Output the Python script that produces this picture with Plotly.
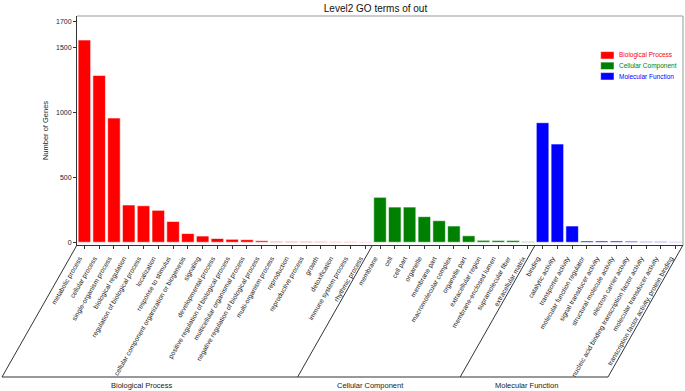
import plotly.graph_objects as go

# ---------------- data ----------------
bp_terms = ["metabolic process", "cellular process", "single-organism process",
            "biological regulation", "regulation of biological process", "localization",
            "response to stimulus", "cellular component organization or biogenesis",
            "signaling", "developmental process", "positive regulation of biological process",
            "multicellular organismal process", "negative regulation of biological process",
            "multi-organism process", "reproduction", "reproductive process", "growth",
            "detoxification", "immune system process", "rhythmic process"]
bp_values = [1556, 1284, 956, 287, 281, 246, 160, 67, 48, 29, 23, 20, 12, 6, 5, 5, 4, 3, 3, 2]

cc_terms = ["membrane", "cell", "cell part", "organelle", "membrane part",
            "macromolecular complex", "organelle part", "extracellular region",
            "membrane-enclosed lumen", "supramolecular fiber", "extracellular matrix"]
cc_values = [346, 271, 271, 197, 166, 125, 50, 15, 14, 14, 5]

mf_terms = ["binding", "catalytic activity", "transporter activity",
            "molecular function regulator", "signal transducer activity",
            "structural molecule activity", "electron carrier activity",
            "nucleic acid binding transcription factor activity",
            "molecular transducer activity", "transcription factor activity, protein binding"]
mf_values = [920, 756, 125, 10, 10, 10, 8, 5, 5, 3]

group_names = ["Biological Process", "Cellular Component", "Molecular Function"]
group_colors = ["#FF0000", "#008000", "#0000FF"]
y_ticks = [0, 500, 1000, 1500, 1700]

# ---------------- layout geometry ----------------
W, H = 685, 391
ML, MR, MT, MB = 77, 2, 16, 146
PW, PH = W - ML - MR, H - MT - MB
FONT = "Liberation Sans, Arial, sans-serif"

def px(x):
    return (x - ML) / PW

def py(y):
    return (H - MB - y) / PH

groups = [(bp_terms, bp_values), (cc_terms, cc_values), (mf_terms, mf_values)]
all_terms = bp_terms + cc_terms + mf_terms
n = len(all_terms)
pitch = PW / n

fig = go.Figure()
for (terms, vals), name, col in zip(groups, group_names, group_colors):
    fig.add_trace(go.Bar(x=terms, y=vals, name=name, marker_color=col,
                         marker_line=dict(color="rgba(255,255,255,0.6)", width=1),
                         showlegend=False))

shapes = []
annotations = []
# group separators (slanted) and bottom baseline
slant = 75
bottom_y = 377
bounds = [0, len(bp_terms), len(bp_terms) + len(cc_terms), n]
for b in bounds:
    xt = ML + b * pitch
    shapes.append(dict(type="line", xref="paper", yref="paper",
                       x0=px(xt), y0=py(H - MB), x1=px(xt - slant), y1=py(bottom_y),
                       line=dict(color="#333333", width=1)))
shapes.append(dict(type="line", xref="paper", yref="paper",
                   x0=px(ML - slant), y0=py(bottom_y), x1=px(ML + PW - slant), y1=py(bottom_y),
                   line=dict(color="#333333", width=1)))
# group labels
for i, name in enumerate(group_names):
    xl = ML + bounds[i] * pitch - slant
    xr = ML + bounds[i + 1] * pitch - slant
    annotations.append(dict(text=name, xref="paper", yref="paper",
                            x=px((xl + xr) / 2 - 8), y=py(385), showarrow=False,
                            xanchor="center", yanchor="middle",
                            font=dict(size=7.5, color="#222222", family=FONT)))
# top/right frame
shapes.append(dict(type="line", xref="paper", yref="paper", x0=0, y0=1, x1=1, y1=1,
                   line=dict(color="#999999", width=1)))
shapes.append(dict(type="line", xref="paper", yref="paper", x0=1, y0=0, x1=1, y1=1,
                   line=dict(color="#999999", width=1)))
# legend
for i, (name, col) in enumerate(zip(group_names, group_colors)):
    yc = 55.3 + i * 10.5
    shapes.append(dict(type="rect", xref="paper", yref="paper",
                       x0=px(600.7), x1=px(614), y0=py(yc - 3.7), y1=py(yc + 3.7),
                       fillcolor=col, line=dict(color="white", width=0.5)))
    annotations.append(dict(text=name, xref="paper", yref="paper", x=px(616.5), y=py(yc),
                            xanchor="left", yanchor="middle", showarrow=False,
                            font=dict(size=6.5, color=col, family=FONT)))

fig.update_layout(
    width=W, height=H,
    margin=dict(l=ML, r=MR, t=MT, b=MB, autoexpand=False),
    paper_bgcolor="white", plot_bgcolor="white",
    barmode="overlay", bargap=0.15,
    font=dict(family=FONT, color="#222222"),
    title=dict(text="Level2 GO terms of out", x=375.5 / W, y=1 - 8 / H,
               xanchor="center", yanchor="middle",
               font=dict(size=10, color="#111111", family=FONT)),
    xaxis=dict(type="category", categoryorder="array", categoryarray=all_terms,
               tickangle=-60, tickfont=dict(size=6.7, color="#222222"),
               ticklabelshift=-5, ticklabelstandoff=3,
               ticks="outside", ticklen=3, tickcolor="#333333", automargin=False,
               showline=True, linecolor="#333333", linewidth=1, showgrid=False,
               range=[-0.5, n - 0.5]),
    yaxis=dict(range=[-21, 1741], tickvals=y_ticks, tickfont=dict(size=7, color="#222222"),
               ticks="outside", ticklen=3, tickcolor="#333333", automargin=False,
               showline=True, linecolor="#333333", linewidth=1,
               showgrid=False, zeroline=False,
               title=dict(text="Number of Genes", font=dict(size=7.5, color="#222222"),
                          standoff=6)),
    shapes=shapes, annotations=annotations, showlegend=False,
)

fig.write_html("out.html", config={"displayModeBar": False},
               post_script="document.body.style.margin='0';document.body.style.padding='0';")
